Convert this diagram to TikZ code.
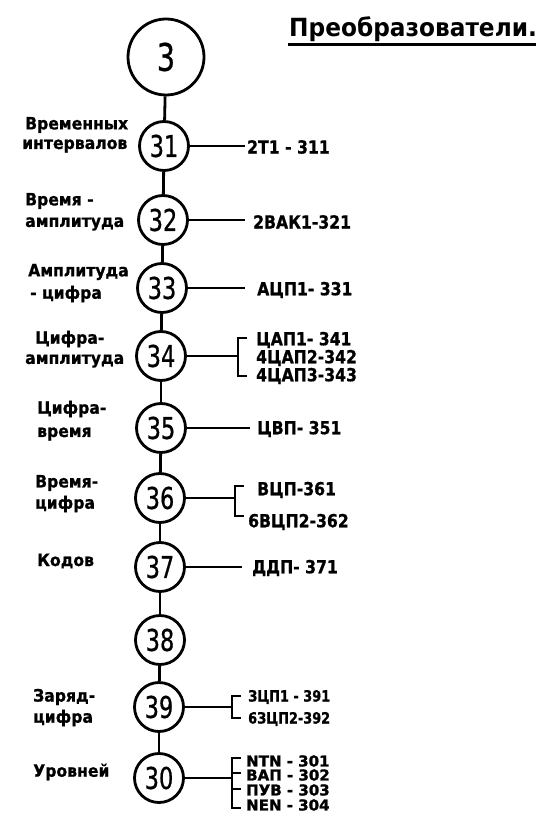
\documentclass[tikz,border=0pt]{standalone}
\usepackage{fontspec}
\setmainfont{DejaVu Sans}
\newfontfamily\numfont[FakeStretch=0.75,FakeBold=0.6]{DejaVu Sans}
\newfontfamily\titlefont[FakeStretch=0.93]{DejaVu Sans}
\newfontfamily\lblfont[FakeStretch=0.92,FakeBold=0.8]{DejaVu Sans}
\newfontfamily\codefont[FakeStretch=0.87,FakeBold=0.8]{DejaVu Sans}
\newfontfamily\pairfont[FakeStretch=0.83,FakeBold=0.9]{DejaVu Sans}
\newfontfamily\tinyfont[FakeStretch=1.0,FakeBold=1.4]{DejaVu Sans}
\begin{document}
\begin{tikzpicture}[x=1pt,y=-1pt,
  unit/.style={circle,draw,line width=2.8pt,minimum size=49pt,inner sep=0pt,
    font=\numfont\fontsize{30}{30}\selectfont},
  root/.style={circle,draw,line width=2.8pt,minimum size=76pt,inner sep=0pt,
    font=\numfont\fontsize{38}{38}\selectfont},
  lbl/.style={anchor=west,inner sep=0pt,font=\lblfont\bfseries\fontsize{17}{19}\selectfont},
  code/.style={anchor=west,inner sep=0pt,font=\codefont\bfseries\fontsize{18}{20}\selectfont},
  pair/.style={anchor=west,inner sep=0pt,font=\pairfont\bfseries\fontsize{15.5}{16}\selectfont},
  small/.style={anchor=west,inner sep=0pt,font=\tinyfont\bfseries\fontsize{15}{16}\selectfont},
  link/.style={line width=2.8pt},
  brk/.style={line width=2.4pt}]
\useasboundingbox (0,0) rectangle (542,818);

% title
\node[anchor=base west,inner sep=0pt,font=\titlefont\bfseries\fontsize{25}{28}\selectfont] (title) at (289,37) {Преобразователи.};
\draw[line width=3pt] (title.base west) ++(-1,7.5) -- ++(248,0);

% chain of units
\node[root] (c3) at (166,57) {3};
\node[unit] (c31) at (164,146) {31};
\node[unit] (c32) at (163,220) {32};
\node[unit] (c33) at (162,288) {33};
\node[unit] (c34) at (161,356) {34};
\node[unit] (c35) at (161,428) {35};
\node[unit] (c36) at (160,498) {36};
\node[unit] (c37) at (160,567) {37};
\node[unit] (c38) at (160,640) {38};
\node[unit] (c39) at (159,707) {39};
\node[unit] (c30) at (159,778) {30};

\draw[link] (c3) -- (c31);
\draw[link] (c31) -- (c32);
\draw[link] (c32) -- (c33);
\draw[link] (c33) -- (c34);
\draw[link] (c34) -- (c35);
\draw[link] (c35) -- (c36);
\draw[link] (c36) -- (c37);
\draw[link] (c37) -- (c38);
\draw[link] (c38) -- (c39);
\draw[link] (c39) -- (c30);

% left labels
\node[lbl] (l31a) at (25,125) {Временных};
\node[lbl] (l31b) at (22,146) {интервалов};
\node[lbl] (l32a) at (25,201) {Время -};
\node[lbl] (l32b) at (25,224) {амплитуда};
\node[lbl] (l33a) at (28,272) {Амплитуда};
\node[lbl] (l33b) at (30,294) {- цифра};
\node[lbl] (l34a) at (35,339) {Цифра-};
\node[lbl] (l34b) at (25,361) {амплитуда};
\node[lbl] (l35a) at (37,409) {Цифра-};
\node[lbl] (l35b) at (37,434) {время};
\node[lbl] (l36a) at (35,483) {Время-};
\node[lbl] (l36b) at (35,504) {цифра};
\node[lbl] (l37) at (37,561) {Кодов};
\node[lbl] (l39a) at (33,697) {Заряд-};
\node[lbl] (l39b) at (33,718) {цифра};
\node[lbl] (l30) at (33,772) {Уровней};

% single outputs
\coordinate (e31) at (245,146);
\coordinate (e32) at (245,220);
\coordinate (e33) at (245,288);
\coordinate (e35) at (250,428);
\coordinate (e37) at (242,567);
\draw[link] (c31) -- (e31);
\draw[link] (c32) -- (e32);
\draw[link] (c33) -- (e33);
\draw[link] (c35) -- (e35);
\draw[link] (c37) -- (e37);
\node[code] (t31) at (247,147) {2Т1 - 311};
\node[code] (t32) at (253,222) {2ВАК1-321};
\node[code] (t33) at (257,290) {АЦП1- 331};
\node[code] (t35) at (257,429) {ЦВП- 351};
\node[code] (t37) at (252,568) {ДДП- 371};

% grouped outputs
\coordinate (b34) at (238,356);
\draw[link] (c34) -- (b34);
\draw[brk] (b34) ++(9,-18) -- ++(-9,0) -- ++(0,38) -- ++(9,0);
\node[code] (t34a) at (256,340) {ЦАП1- 341};
\node[code] (t34b) at (256,358) {4ЦАП2-342};
\node[code] (t34c) at (256,376) {4ЦАП3-343};

\coordinate (b36) at (235,498);
\draw[link] (c36) -- (b36);
\draw[brk] (b36) ++(9,-12) -- ++(-9,0) -- ++(0,30) -- ++(9,0);
\node[code] (t36a) at (257,490) {ВЦП-361};
\node[code] (t36b) at (248,522) {6ВЦП2-362};

\coordinate (b39) at (232,707);
\draw[link] (c39) -- (b39);
\draw[brk] (b39) ++(9,-11) -- ++(-9,0) -- ++(0,22) -- ++(9,0);
\node[pair] (t39a) at (248,697) {ЗЦП1 - 391};
\node[pair] (t39b) at (248,719) {6ЗЦП2-392};

\coordinate (b30) at (232,778);
\draw[link] (c30) -- (b30);
\draw[brk] (b30) ++(9,-20) -- ++(-9,0) -- ++(0,50) -- ++(9,0);
\draw[brk] (b30) ++(0,-5) -- ++(9,0);
\draw[brk] (b30) ++(0,11) -- ++(9,0);
\node[small] (t30a) at (246,761) {NTN - 301};
\node[small] (t30b) at (246,775) {ВАП - 302};
\node[small] (t30c) at (246,790) {ПУВ - 303};
\node[small] (t30d) at (246,805) {NEN - 304};
\end{tikzpicture}
\end{document}
